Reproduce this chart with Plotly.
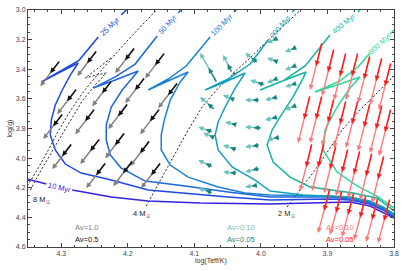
import math
import plotly.graph_objects as go

# ---------------- data ----------------
ages = ["10 Myr", "25 Myr", "50 Myr", "100 Myr", "200 Myr", "400 Myr", "800 Myr"]
age_colors = ["#3322dd", "#1e48e0", "#1f66dd", "#1a80d4", "#13a0bf", "#14b5a0", "#2ad99a"]

iso_10_logT = [4.3616, 4.3495, 4.3225, None, 4.2835, 4.2249, 4.1694, 4.0913, 3.9862, 3.8961, 3.8661, 3.8360, 3.8165, 3.8000]
iso_10_logg = [4.128, 4.141, 4.175, None, 4.215, 4.263, 4.290, 4.303, 4.310, 4.296, 4.296, 4.323, 4.364, 4.404]

iso_25_logT = [3.8000, 3.8165, 3.8360, 3.8661, 3.8961, 3.9862, 4.0492, 4.1138, 4.1694, 4.2249, 4.2700, 4.2940, 4.3090, 4.3165, 4.3150, 4.3090, 4.2985, 4.2865, 4.2745, 4.3015, 4.3300, 4.3015, 4.2730, 4.2444, None, 4.2099, 4.1964]
iso_25_logg = [4.398, 4.350, 4.310, 4.283, 4.276, 4.283, 4.263, 4.236, 4.215, 4.148, 4.101, 4.040, 3.945, 3.844, 3.743, 3.641, 3.540, 3.439, 3.358, 3.419, 3.486, 3.412, 3.338, 3.182, None, 3.034, 2.973]

iso_50_logT = [3.8000, 3.8165, 3.8360, 3.8661, 3.8961, 3.9862, 4.0492, 4.1138, 4.1739, 4.2099, 4.2264, 4.2324, 4.2324, 4.2249, 4.2084, 4.1934, 4.1844, 4.2189, 4.2520, 4.2189, 4.1889, 4.1559, None, 4.1243, 4.1123]
iso_50_logg = [4.391, 4.344, 4.303, 4.276, 4.263, 4.263, 4.229, 4.188, 4.155, 4.067, 3.979, 3.878, 3.776, 3.655, 3.540, 3.459, 3.412, 3.473, 3.527, 3.452, 3.365, 3.176, None, 3.020, 2.960]

iso_100_logT = [3.8000, 3.8165, 3.8360, 3.8661, 3.8961, 3.9862, 4.0237, 4.0643, 4.1093, 4.1363, 4.1498, 4.1498, 4.1453, 4.1363, 4.1213, 4.1093, 4.1363, 4.1694, 4.1393, 4.1123, 4.0763, None, 4.0402, 4.0252]
iso_100_logg = [4.384, 4.337, 4.296, 4.269, 4.256, 4.249, 4.236, 4.195, 4.128, 4.047, 3.945, 3.844, 3.743, 3.608, 3.486, 3.419, 3.473, 3.540, 3.466, 3.378, 3.182, None, 3.014, 2.946]

iso_200_logT = [3.8000, 3.8165, 3.8360, 3.8661, 3.9366, 3.9862, 4.0087, 4.0432, 4.0643, 4.0688, 4.0643, 4.0538, 4.0387, 4.0237, 4.0538, 4.0838, 4.0492, 4.0162, 3.9892, None, 3.9532, 3.9411]
iso_200_logg = [4.377, 4.330, 4.290, 4.263, 4.249, 4.222, 4.148, 4.060, 3.945, 3.844, 3.756, 3.655, 3.527, 3.425, 3.486, 3.540, 3.466, 3.365, 3.203, None, 3.014, 2.960]

iso_400_logT = [3.8000, 3.8255, 3.8616, 3.9261, 3.9562, 3.9817, 3.9907, 3.9832, 3.9712, 3.9517, 3.9381, 3.9321, 3.9637, 4.0012, 3.9667, 3.9336, 3.8961, None, 3.8541, 3.8435]
iso_400_logg = [4.357, 4.269, 4.236, 4.195, 4.128, 4.026, 3.912, 3.810, 3.722, 3.587, 3.473, 3.419, 3.473, 3.540, 3.479, 3.378, 3.169, None, 3.014, 2.960]

iso_800_logT = [3.8000, 3.8255, 3.8556, 3.8856, 3.9066, 3.9036, 3.8961, 3.8856, 3.8661, 3.8511, 3.8811, 3.9186, 3.8811, 3.8541, 3.8360, None, 3.8060, 3.7940]
iso_800_logg = [4.337, 4.256, 4.188, 4.094, 3.945, 3.810, 3.743, 3.655, 3.527, 3.452, 3.500, 3.554, 3.479, 3.385, 3.290, None, 3.162, 3.108]

# evolutionary tracks (dashed)
track_8_logT = [4.3465, 4.3285, 4.3090, 4.2895, 4.2685, 4.2490, 4.2324, 4.2474, 4.2640, 4.2444, 4.2234]
track_8_logg = [4.215, 4.067, 3.918, 3.770, 3.614, 3.506, 3.425, 3.439, 3.459, 3.392, 3.317]
track_8b_logT = [4.3510, 4.3345, 4.3195, 4.3045, 4.2865, 4.2670, 4.2474, 4.2264, 4.2039, 4.1814, 4.1544, 4.1423]
track_8b_logg = [4.188, 4.067, 3.945, 3.817, 3.682, 3.554, 3.446, 3.338, 3.223, 3.115, 2.993, 2.932]
track_4_logT = [4.1724, 4.1589, 4.1438, 4.1258, 4.1093, 4.0883, 4.0643, 4.0432, 4.0342, 4.0432, 4.0162, 3.9892, 3.9562, 3.9291]
track_4_logg = [4.323, 4.215, 4.094, 3.945, 3.810, 3.655, 3.527, 3.439, 3.419, 3.432, 3.324, 3.203, 3.068, 2.953]
track_2_logT = [3.9607, 3.9411, 3.9186, 3.8961, 3.8781, 3.8511, 3.8240, 3.8000, 3.7835]
track_2_logg = [4.330, 4.215, 4.080, 3.932, 3.810, 3.675, 3.554, 3.446, 3.371]
track_labels = ["8 M<sub>☉</sub>", "4 M<sub>☉</sub>", "2 M<sub>☉</sub>"]

# extinction vectors: black/grey group (tail, head for Av=1.0, head for Av=0.5)
bk_tail_logT = [4.3015, 4.2459, 4.1889, 4.1438, 4.2760, 4.2234, 4.1739, 4.1243, 4.2970, 4.2489, 4.1994, 4.1514,
                4.2835, 4.2414, 4.2039, 4.1664, 4.2324, 4.1919, 4.1498]
bk_tail_logg = [3.338, 3.270, 3.250, 3.284, 3.527, 3.473, 3.452, 3.486, 3.695, 3.662, 3.628, 3.662,
                3.898, 3.864, 3.824, 3.878, 4.026, 4.013, 4.026]
bk_head10_logT = [4.3315, 4.2759, 4.2189, 4.1738, 4.3060, 4.2534, 4.2039, 4.1543, 4.3270, 4.2789, 4.2294, 4.1814,
                  4.3135, 4.2714, 4.2339, 4.1964, 4.2624, 4.2219, 4.1798]
bk_head10_logg = [3.514, 3.446, 3.426, 3.460, 3.703, 3.649, 3.628, 3.662, 3.871, 3.838, 3.804, 3.838,
                  4.074, 4.040, 4.000, 4.054, 4.202, 4.189, 4.202]
bk_head05_logT = [4.3165, 4.2609, 4.2039, 4.1588, 4.2910, 4.2384, 4.1889, 4.1393, 4.3120, 4.2639, 4.2144, 4.1664,
                  4.2985, 4.2564, 4.2189, 4.1814, 4.2474, 4.2069, 4.1648]
bk_head05_logg = [3.426, 3.358, 3.338, 3.372, 3.615, 3.561, 3.540, 3.574, 3.783, 3.750, 3.716, 3.750,
                  3.986, 3.952, 3.912, 3.966, 4.114, 4.101, 4.114]

# teal group (Av=0.10 / 0.05)
tl_tail_logT = [4.0658, 4.0432, 4.0042, 3.9937, 4.0688, 4.0387, 4.0012, 4.0718, 4.0357, 3.9982, 4.0688, 4.0718, 4.0357, 4.0012, 4.0357, 4.0012, 4.0718, 4.0042, 3.9742, 3.9456, 3.9742, 3.9456, 3.9742, 3.9456, 3.9742, 3.9456, 3.9742, 3.9712]
tl_tail_logg = [3.493, 3.425, 3.358, 3.506, 3.675, 3.608, 3.608, 3.824, 3.776, 3.797, 3.864, 4.060, 3.945, 3.912, 4.101, 4.067, 4.236, 4.182, 3.189, 3.250, 3.351, 3.371, 3.459, 3.493, 3.587, 3.641, 3.722, 3.858]
tl_head10_logT = [4.0913, 4.0568, 4.0237, 4.0162, 4.0913, 4.0568, 4.0237, 4.0943, 4.0538, 4.0237, 4.0868, 4.0943, 4.0568, 4.0237, 4.0568, 4.0237, 4.0943, 4.0237, 3.9907, 3.9637, 3.9907, 3.9637, 3.9907, 3.9637, 3.9937, 3.9637, 3.9937, 3.9907]
tl_head10_logg = [3.290, 3.304, 3.290, 3.473, 3.587, 3.574, 3.608, 3.790, 3.756, 3.790, 3.830, 4.013, 3.912, 3.925, 4.094, 4.094, 4.202, 4.195, 3.223, 3.284, 3.324, 3.405, 3.493, 3.520, 3.608, 3.675, 3.743, 3.878]
tl_head05_logT = [4.0786, 4.0500, 4.0140, 4.0050, 4.0800, 4.0478, 4.0125, 4.0830, 4.0448, 4.0110, 4.0778, 4.0830, 4.0462, 4.0125, 4.0462, 4.0125, 4.0830, 4.0140, 3.9825, 3.9547, 3.9825, 3.9547, 3.9825, 3.9547, 3.9840, 3.9547, 3.9840, 3.9810]
tl_head05_logg = [3.392, 3.365, 3.324, 3.490, 3.631, 3.591, 3.608, 3.807, 3.766, 3.794, 3.847, 4.037, 3.929, 3.919, 4.098, 4.081, 4.219, 4.189, 3.206, 3.267, 3.338, 3.388, 3.476, 3.507, 3.598, 3.658, 3.733, 3.868]

# red group (Av=0.10 / 0.05)
rd_tail_logT = [3.9081, 3.8901, 3.8721, 3.8541, 3.8360, 3.8180, 3.8045,
                3.9261, 3.9081, 3.8901, 3.8721, 3.8541, 3.8360, 3.8180, 3.8045,
                3.9231, 3.9051, 3.8871, 3.8691, 3.8511, 3.8330, 3.8150,
                3.8961, 3.8781, 3.8601, 3.8420, 3.8240, 3.8060]
rd_tail_logg = [3.216, 3.257, 3.284, 3.284, 3.304, 3.317, 3.351,
                3.574, 3.574, 3.594, 3.608, 3.608, 3.628, 3.641, 3.662,
                3.898, 3.898, 3.912, 3.932, 3.945, 3.959, 3.979,
                4.202, 4.215, 4.229, 4.249, 4.263, 4.270]
rd_head10_logT = [3.9261, 3.9081, 3.8901, 3.8721, 3.8540, 3.8360, 3.8225,
                  3.9441, 3.9261, 3.9081, 3.8901, 3.8721, 3.8540, 3.8360, 3.8225,
                  3.9411, 3.9231, 3.9051, 3.8871, 3.8691, 3.8510, 3.8330,
                  3.9141, 3.8961, 3.8781, 3.8600, 3.8420, 3.8240]
rd_head10_logg = [3.540, 3.581, 3.608, 3.608, 3.628, 3.641, 3.675,
                  3.898, 3.898, 3.918, 3.932, 3.932, 3.952, 3.965, 3.986,
                  4.222, 4.222, 4.236, 4.256, 4.269, 4.283, 4.303,
                  4.505, 4.518, 4.532, 4.552, 4.566, 4.573]
rd_head05_logT = [3.9171, 3.8991, 3.8811, 3.8631, 3.8450, 3.8270, 3.8135,
                  3.9351, 3.9171, 3.8991, 3.8811, 3.8631, 3.8450, 3.8270, 3.8135,
                  3.9321, 3.9141, 3.8961, 3.8781, 3.8601, 3.8420, 3.8240,
                  3.9051, 3.8871, 3.8691, 3.8510, 3.8330, 3.8150]
rd_head05_logg = [3.378, 3.419, 3.446, 3.446, 3.466, 3.479, 3.513,
                  3.736, 3.736, 3.756, 3.770, 3.770, 3.790, 3.803, 3.824,
                  4.060, 4.060, 4.074, 4.094, 4.107, 4.121, 4.141,
                  4.354, 4.367, 4.381, 4.401, 4.415, 4.422]

legend_texts = [["Av=1.0", "Av=0.5"], ["Av=0.10", "Av=0.05"], ["Av=0.10", "Av=0.05"]]
legend_logT = [4.2625, 4.0297, 3.8811]
legend_logg = [4.465, 4.546]

# ---------------- layout constants ----------------
W, H = 407, 271
ML, MR, MT, MB = 28, 13, 10, 24
XR = [4.35, 3.80]
YR = [4.60, 3.00]
FONT = "Liberation Sans, Arial, sans-serif"
PW, PH = W - ML - MR, H - MT - MB


def to_px(t, g):
    px = ML + (t - XR[0]) / (XR[1] - XR[0]) * PW
    py = MT + (g - YR[1]) / (YR[0] - YR[1]) * PH
    return px, py


fig = go.Figure()
annotations = []

# tracks
for tT, tG in [(track_8_logT, track_8_logg), (track_8b_logT, track_8b_logg),
               (track_4_logT, track_4_logg), (track_2_logT, track_2_logg)]:
    fig.add_trace(go.Scatter(x=tT, y=tG, mode="lines",
                             line=dict(color="#222222", width=1, dash="2px,2px"),
                             hoverinfo="skip", showlegend=False))

# isochrones
iso_T = [iso_10_logT, iso_25_logT, iso_50_logT, iso_100_logT, iso_200_logT, iso_400_logT, iso_800_logT]
iso_G = [iso_10_logg, iso_25_logg, iso_50_logg, iso_100_logg, iso_200_logg, iso_400_logg, iso_800_logg]
for name, col, tT, tG in zip(ages, age_colors, iso_T, iso_G):
    fig.add_trace(go.Scatter(x=tT, y=tG, mode="lines", name=name,
                             line=dict(color=col, width=1.5),
                             hoverinfo="skip", showlegend=False))
    i = tT.index(None)
    t0, g0, t1, g1 = tT[i - 1], tG[i - 1], tT[i + 1], tG[i + 1]
    p0, p1 = to_px(t0, g0), to_px(t1, g1)
    ang = math.degrees(math.atan2(p1[1] - p0[1], p1[0] - p0[0]))
    annotations.append(dict(x=(t0 + t1) / 2, y=(g0 + g1) / 2, xref="x", yref="y",
                            text=name, showarrow=False, textangle=ang,
                            font=dict(family=FONT, size=7.5, color=col)))


def arrow(t0, g0, t1, g1, color, width=1.4, size=0.75):
    return dict(x=t1, y=g1, ax=t0, ay=g0, xref="x", yref="y", axref="x", ayref="y",
                text="", showarrow=True, arrowhead=2, arrowsize=size, arrowwidth=width,
                arrowcolor=color, standoff=0, startstandoff=0)


groups = [
    (bk_tail_logT, bk_tail_logg, bk_head10_logT, bk_head10_logg, bk_head05_logT, bk_head05_logg, "#808080", "#111111"),
    (tl_tail_logT, tl_tail_logg, tl_head10_logT, tl_head10_logg, tl_head05_logT, tl_head05_logg, "#6cc3bb", "#17877f"),
    (rd_tail_logT, rd_tail_logg, rd_head10_logT, rd_head10_logg, rd_head05_logT, rd_head05_logg, "#ff7a7a", "#ff1a1a"),
]
for tT, tG, hT, hG, mT, mG, c_long, c_short in groups:
    for t, g, t1, g1 in zip(tT, tG, hT, hG):
        annotations.append(arrow(t, g, t1, g1, c_long))
    for t, g, t1, g1 in zip(tT, tG, mT, mG):
        annotations.append(arrow(t, g, t1, g1, c_short))

# track labels
label_shift = [(12, -10), (-4, -8), (0, -7)]
for lab, (tT, tG), (dx, dy) in zip(track_labels,
                                   [(track_8_logT, track_8_logg), (track_4_logT, track_4_logg), (track_2_logT, track_2_logg)],
                                   label_shift):
    annotations.append(dict(x=tT[0], y=tG[0], xref="x", yref="y", text=lab, showarrow=False,
                            xshift=dx, yshift=dy, font=dict(family=FONT, size=7.5, color="#222222")))

# Av legends
legend_colors = [["#808080", "#111111"], ["#6cc3bb", "#17877f"], ["#ff7a7a", "#ff1a1a"]]
for texts, cols, t in zip(legend_texts, legend_colors, legend_logT):
    for txt, c, g in zip(texts, cols, legend_logg):
        annotations.append(dict(x=t, y=g, xref="x", yref="y", text=txt, showarrow=False,
                                font=dict(family=FONT, size=7.5, color=c)))

# axis titles (placed explicitly so that margins stay fixed)
annotations.append(dict(x=0.5, y=-13.5 / PH, xref="paper", yref="paper", yanchor="middle",
                        text="log(Teff/K)", showarrow=False,
                        font=dict(family=FONT, size=7, color="#333333")))
annotations.append(dict(x=-19.0 / PW, y=0.5, xref="paper", yref="paper", xanchor="center",
                        text="log(g)", showarrow=False, textangle=-90,
                        font=dict(family=FONT, size=7, color="#333333")))

axis_common = dict(showline=True, linecolor="#444444", linewidth=1, mirror="allticks",
                   ticks="inside", ticklen=4, tickcolor="#444444", showgrid=False, zeroline=False,
                   automargin=False, ticklabeloverflow="allow",
                   tickfont=dict(family=FONT, size=7, color="#444444"))

fig.update_layout(
    width=W, height=H, margin=dict(l=ML, r=MR, t=MT, b=MB, autoexpand=False),
    paper_bgcolor="white", plot_bgcolor="white",
    annotations=annotations,
    xaxis=dict(range=XR, tickvals=[4.3, 4.2, 4.1, 4.0, 3.9, 3.8],
               ticktext=["4.3", "4.2", "4.1", "4.0", "3.9", "3.8"],
               minor=dict(dtick=0.02, ticklen=2, ticks="inside", tickcolor="#444444"),
               **axis_common),
    yaxis=dict(range=YR, tickvals=[3.0, 3.2, 3.4, 3.6, 3.8, 4.0, 4.2, 4.4, 4.6],
               ticktext=["3.0", "3.2", "3.4", "3.6", "3.8", "4.0", "4.2", "4.4", "4.6"],
               minor=dict(dtick=0.05, ticklen=2, ticks="inside", tickcolor="#444444"),
               **axis_common),
)

# the page body has a default 8px margin; remove it so the figure fills the window
fig.write_html("out.html", config={"displayModeBar": False},
               post_script="document.body.style.margin='0';")
